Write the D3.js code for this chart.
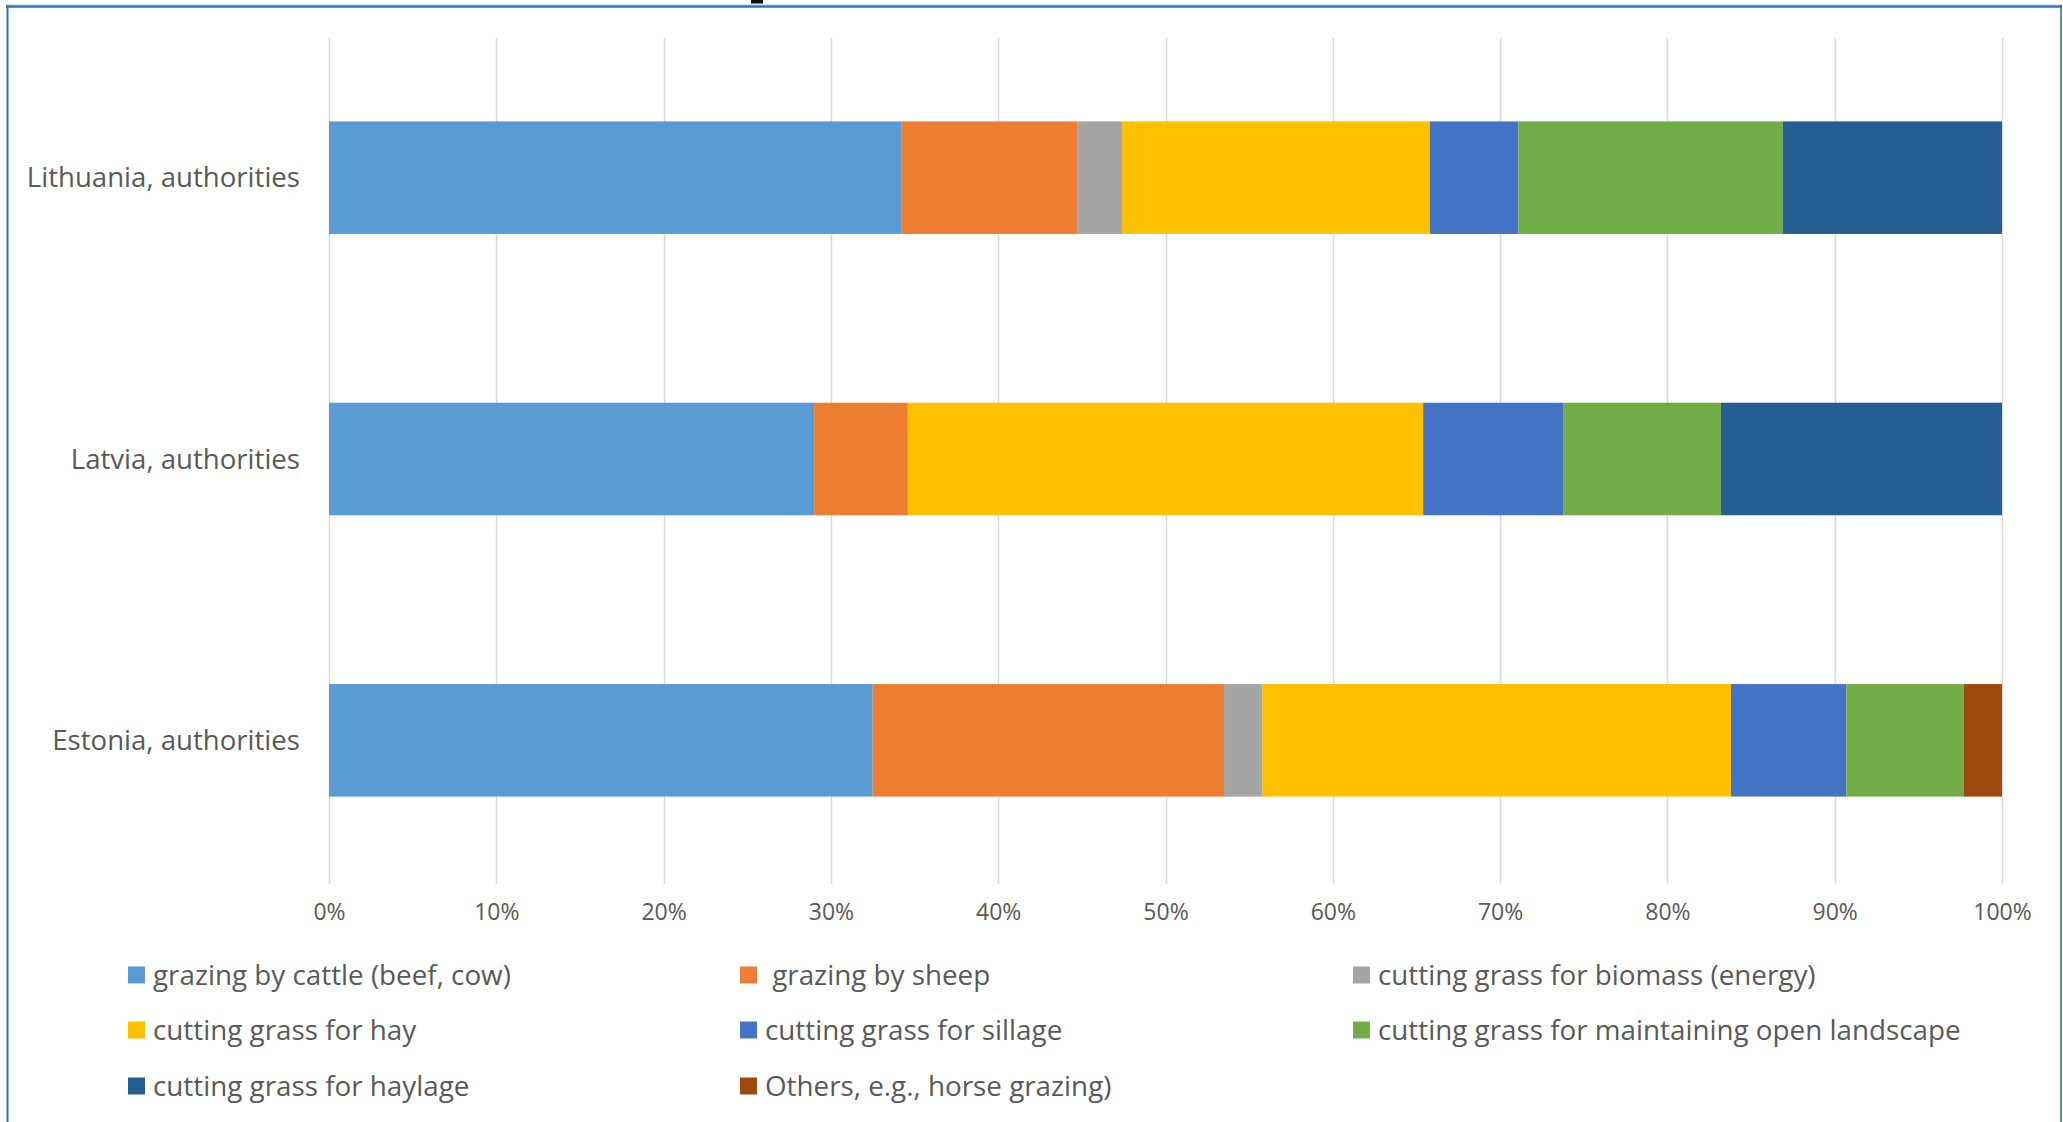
<!DOCTYPE html>
<html>
<head>
<meta charset="utf-8">
<script src="https://cdn.jsdelivr.net/npm/d3@7"></script>
<style>
  html, body { margin: 0; padding: 0; background: #fff; }
  svg { display: block; }
  text { font-family: "Open Sans", "DejaVu Sans", sans-serif; fill: #595959; }
</style>
</head>
<body>
<svg id="chart" width="2063" height="1122"></svg>
<script>
// ---- data ----
const categories = ["Lithuania, authorities", "Latvia, authorities", "Estonia, authorities"];
const seriesNames = [
  "grazing by cattle (beef, cow)",
  " grazing by sheep",
  "cutting grass for biomass (energy)",
  "cutting grass for hay",
  "cutting grass for sillage",
  "cutting grass for maintaining open landscape",
  "cutting grass for haylage",
  "Others, e.g., horse grazing)"
];
const seriesColors = ["#5B9BD5", "#ED7D31", "#A5A5A5", "#FFC000", "#4472C4", "#70AD47", "#255E91", "#9E480E"];
// percentage shares per category (Lithuania, Latvia, Estonia)
const cattle    = [34.2, 29.0, 32.5];
const sheep     = [10.55, 5.6, 21.0];
const biomass   = [2.65, 0, 2.3];
const hay       = [18.4, 30.8, 28.0];
const sillage   = [5.3, 8.4, 6.9];
const landscape = [15.8, 9.4, 7.0];
const haylage   = [13.1, 16.8, 0];
const others    = [0, 0, 2.3];
const seriesValues = [cattle, sheep, biomass, hay, sillage, landscape, haylage, others];
const tickValues = [0, 10, 20, 30, 40, 50, 60, 70, 80, 90, 100];
const tickLabels = ["0%", "10%", "20%", "30%", "40%", "50%", "60%", "70%", "80%", "90%", "100%"];

// ---- build table ----
const keys = seriesNames.map((d, i) => "s" + i);
const table = categories.map((c, ci) => {
  const row = { category: c };
  keys.forEach((k, si) => row[k] = seriesValues[si][ci]);
  return row;
});
const stacked = d3.stack().keys(keys)(table);

const svg = d3.select("#chart");
svg.append("rect").attr("width", 2063).attr("height", 1122).attr("fill", "#fff");

// ---- scales ----
const x = d3.scaleLinear().domain([0, 100]).range([329, 2002]);
const y = d3.scaleBand().domain(categories).range([37, 881]).paddingInner(0.6).paddingOuter(0.3);

// ---- gridlines ----
svg.append("g").selectAll("line").data(tickValues).join("line")
  .attr("x1", d => Math.round(x(d)) + 0.5).attr("x2", d => Math.round(x(d)) + 0.5)
  .attr("y1", 38).attr("y2", 884)
  .attr("stroke", "#D9D9D9").attr("stroke-width", 1.5);

// ---- bars ----
svg.append("g").selectAll("g").data(stacked).join("g")
  .attr("fill", (d, i) => seriesColors[i])
  .selectAll("rect").data(d => d).join("rect")
  .attr("x", d => x(d[0]))
  .attr("width", d => Math.max(0, x(d[1]) - x(d[0])))
  .attr("y", d => y(d.data.category))
  .attr("height", y.bandwidth());

// ---- x axis labels ----
const xAxis = d3.axisBottom(x).tickValues(tickValues)
  .tickFormat((d, i) => tickLabels[i]).tickSize(0).tickPadding(0);
const gx = svg.append("g").attr("transform", "translate(0,912)").call(xAxis);
gx.select(".domain").remove();
gx.selectAll("text")
  .attr("dy", "0.35em").attr("y", 0)
  .style("font-family", "'Open Sans', sans-serif")
  .style("font-size", "23px").style("fill", "#595959");

// ---- category labels ----
svg.append("g").selectAll("text").data(categories).join("text")
  .attr("x", 300)
  .attr("y", d => y(d) + y.bandwidth() / 2)
  .attr("dy", "0.35em")
  .attr("text-anchor", "end")
  .style("font-size", "27.6px")
  .text(d => d);

// ---- legend ----
const legendCols = [128, 740, 1353];
const legendRows = [975, 1030, 1086];
const lg = svg.append("g").selectAll("g").data(seriesNames).join("g")
  .attr("transform", (d, i) => `translate(${legendCols[i % 3]},${legendRows[Math.floor(i / 3)]})`);
lg.append("rect").attr("x", 0).attr("y", -8.5).attr("width", 17).attr("height", 17)
  .attr("fill", (d, i) => seriesColors[i]);
lg.append("text").attr("x", 25).attr("dy", "0.35em")
  .attr("xml:space", "preserve")
  .style("white-space", "pre")
  .style("font-size", "27.8px")
  .text(d => d);

// ---- frame ----
svg.append("line").attr("x1", 6).attr("x2", 2063).attr("y1", 4.5).attr("y2", 4.5)
  .attr("stroke", "#DDE6F0").attr("stroke-width", 1);
svg.append("line").attr("x1", 6).attr("x2", 2062).attr("y1", 6.5).attr("y2", 6.5)
  .attr("stroke", "#2E75B6").attr("stroke-width", 2.5);
svg.append("line").attr("x1", 7.5).attr("x2", 7.5).attr("y1", 5.5).attr("y2", 1122)
  .attr("stroke", "#2E75B6").attr("stroke-width", 2);
svg.append("line").attr("x1", 2061).attr("x2", 2061).attr("y1", 5.5).attr("y2", 1122)
  .attr("stroke", "#2E6A9E").attr("stroke-width", 1.5);
// fragment of a clipped title above the frame
svg.append("rect").attr("x", 751).attr("y", 0).attr("width", 12).attr("height", 3.5).attr("fill", "#111");
</script>
</body>
</html>
